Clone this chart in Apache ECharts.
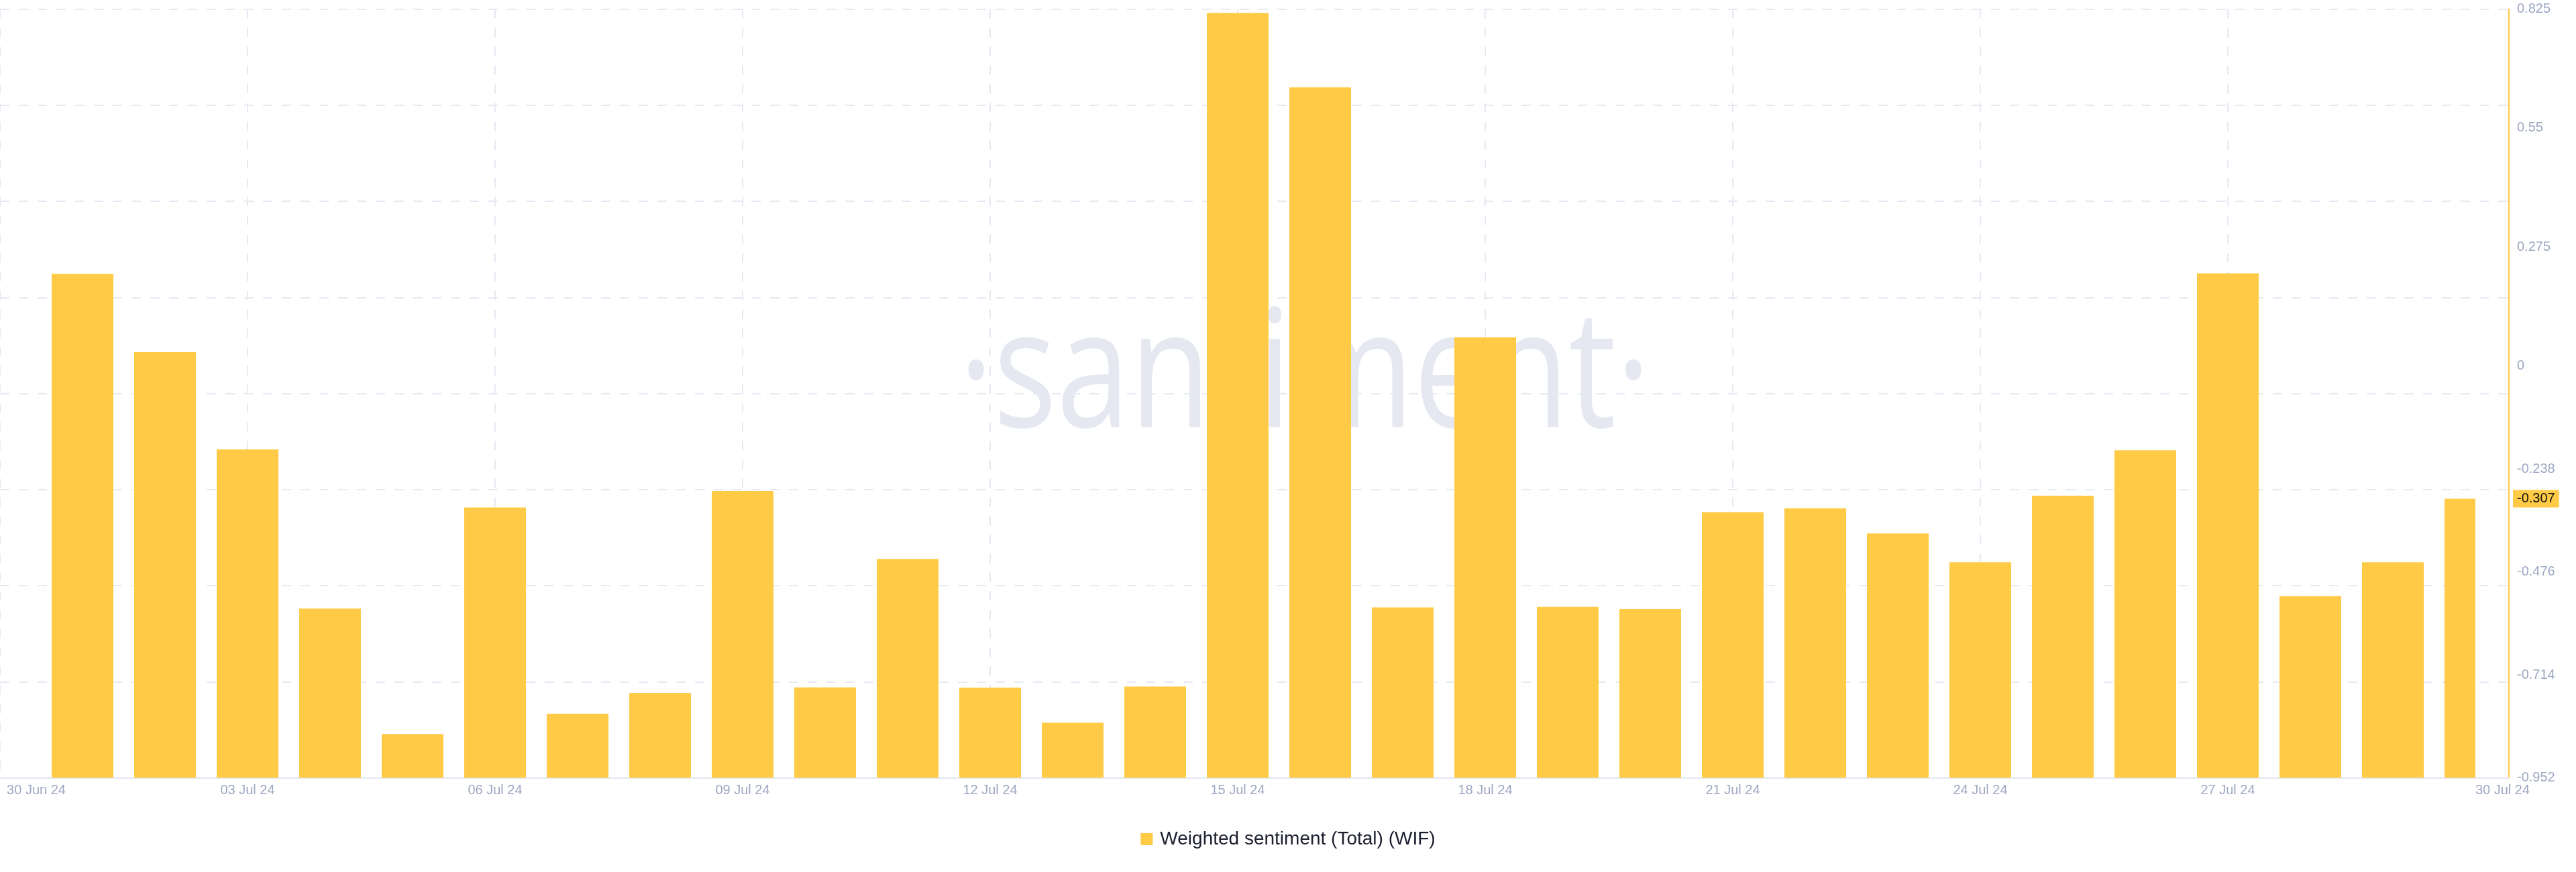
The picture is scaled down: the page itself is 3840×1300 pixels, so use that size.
<!DOCTYPE html>
<html>
<head>
<meta charset="utf-8">
<script src="https://cdn.jsdelivr.net/npm/echarts@6/dist/echarts.min.js"></script>
<style>
  html, body { margin: 0; padding: 0; background: #ffffff; }
  #chart { width: 3840px; height: 1300px; }
</style>
</head>
<body>
<div id="chart"></div>
<script>
// ---- data ----
const seriesName = 'Weighted sentiment (Total) (WIF)';
const categories = [
  '2024-07-01','2024-07-02','2024-07-03','2024-07-04','2024-07-05','2024-07-06',
  '2024-07-07','2024-07-08','2024-07-09','2024-07-10','2024-07-11','2024-07-12',
  '2024-07-13','2024-07-14','2024-07-15','2024-07-16','2024-07-17','2024-07-18',
  '2024-07-19','2024-07-20','2024-07-21','2024-07-22','2024-07-23','2024-07-24',
  '2024-07-25','2024-07-26','2024-07-27','2024-07-28','2024-07-29','2024-07-30'
];
const values = [
  0.213, 0.032, -0.193, -0.561, -0.851, -0.327,
  -0.804, -0.756, -0.289, -0.743, -0.446, -0.744,
  -0.825, -0.741, 0.816, 0.644, -0.558, 0.066,
  -0.557, -0.562, -0.338, -0.329, -0.387, -0.454,
  -0.300, -0.195, 0.214, -0.532, -0.454, -0.307
];
const xTickDates = ['2024-06-30','2024-07-03','2024-07-06','2024-07-09','2024-07-12','2024-07-15',
  '2024-07-18','2024-07-21','2024-07-24','2024-07-27','2024-07-30'];
const xTickLabels = ['30 Jun 24','03 Jul 24','06 Jul 24','09 Jul 24','12 Jul 24','15 Jul 24',
  '18 Jul 24','21 Jul 24','24 Jul 24','27 Jul 24','30 Jul 24'];
const yTickValues = [0.825, 0.55, 0.275, 0, -0.238, -0.476, -0.714, -0.952];
const yTickLabels = ['0.825','0.55','0.275','0','-0.238','-0.476','-0.714','-0.952'];
const yMin = -0.952, yMax = 0.825;

// ---- helpers ----
function ms(d) { const p = d.split('-').map(Number); return Date.UTC(p[0], p[1] - 1, p[2]); }
const barData = categories.map((c, i) => [ms(c), values[i]]);
const xMinMs = ms('2024-06-30');
const xMaxBars = ms('2024-07-30');
const xMaxAxis = Date.UTC(2024, 6, 30, 9, 45);
const xLabelMap = {};
xTickDates.forEach((d, i) => { xLabelMap[ms(d)] = xTickLabels[i]; });
const xGridValues = xTickDates.slice(0, xTickDates.length - 1).map(ms);
const yGridValues = [];
for (let k = 0; k <= 8; k++) yGridValues.push(yMin + (yMax - yMin) * k / 8);
const lastValue = values[values.length - 1];
const yLabelValues = yTickValues.concat([lastValue]);

const FONT = '"Liberation Sans", Arial, Helvetica, sans-serif';
const LABEL_COLOR = '#9ea8c3';
const GRID_COLOR = '#e6e9f2';
const YELLOW = '#FFCB47';
const BAR_WIDTH = 92;

// bars rise from the bottom of the axis (its minimum), as in the original
function renderBar(params, api) {
  const x = api.value(0), v = api.value(1);
  const top = api.coord([x, v]);
  const base = api.coord([x, yMin]);
  const rect = { x: top[0] - BAR_WIDTH / 2, y: top[1], width: BAR_WIDTH, height: base[1] - top[1] };
  const cs = params.coordSys;
  const clipped = echarts.graphic.clipRectByRect(rect, { x: cs.x, y: cs.y, width: cs.width, height: cs.height });
  if (!clipped) return null;
  return { type: 'rect', shape: clipped, style: { fill: YELLOW } };
}

const chart = echarts.init(document.getElementById('chart'), null, { renderer: 'canvas' });
chart.setOption({
  animation: false,
  backgroundColor: '#ffffff',
  graphic: [{
    type: 'text',
    x: 1945, y: 567,
    scaleY: 1.25,
    z: -10,
    silent: true,
    style: {
      text: '\u00b7santiment\u00b7',
      fontFamily: '"Open Sans", sans-serif',
      fontSize: 197,
      fill: '#e5e8f1',
      align: 'center',
      verticalAlign: 'middle'
    }
  }],
  legend: {
    data: [seriesName],
    left: 'center',
    top: 1237,
    padding: 0,
    icon: 'rect',
    itemWidth: 18,
    itemHeight: 18,
    textStyle: { fontFamily: FONT, fontSize: 28, color: '#1c1f2e', padding: [0, 0, 0, 6] }
  },
  grid: [
    { left: 0, right: 150, top: 13.5, bottom: 140.5 },
    { left: 0, right: 100, top: 13.5, bottom: 140.5 }
  ],
  xAxis: [
    { type: 'value', gridIndex: 0, min: xMinMs, max: xMaxBars, show: false },
    {
      type: 'value', gridIndex: 1, min: xMinMs, max: xMaxAxis,
      axisLine: { show: true, onZero: false, lineStyle: { color: '#e3e6ef', width: 2 } },
      axisTick: { show: false, customValues: xGridValues },
      splitLine: { show: true, lineStyle: { color: GRID_COLOR, width: 2, type: [14, 14] } },
      axisLabel: {
        customValues: xTickDates.map(ms),
        margin: 9,
        fontFamily: FONT, fontSize: 20, color: LABEL_COLOR,
        formatter: function (v) {
          const t = xLabelMap[v] || '';
          if (v === xMinMs) return '{first|' + t + '}';
          if (v === xMaxBars) return '{last|' + t + '}';
          return '{n|' + t + '}';
        },
        rich: {
          n: { fontFamily: FONT, fontSize: 20, color: LABEL_COLOR },
          first: { fontFamily: FONT, fontSize: 20, color: LABEL_COLOR, padding: [0, 0, 0, 108] },
          last: { fontFamily: FONT, fontSize: 20, color: LABEL_COLOR, padding: [0, 0, 0, 81] }
        }
      }
    }
  ],
  yAxis: [
    { type: 'value', gridIndex: 0, min: yMin, max: yMax, show: false },
    {
      type: 'value', gridIndex: 1, position: 'right', min: yMin, max: yMax,
      axisLine: { show: true, onZero: false, lineStyle: { color: YELLOW, width: 2 } },
      axisTick: { show: false, customValues: yGridValues },
      splitLine: { show: true, lineStyle: { color: GRID_COLOR, width: 2, type: [14, 14] } },
      axisLabel: {
        customValues: yLabelValues,
        margin: 6,
        fontFamily: FONT, fontSize: 20, color: LABEL_COLOR,
        formatter: function (v) {
          if (Math.abs(v - lastValue) < 1e-9) return '{hl|' + String(lastValue) + '}';
          const i = yTickValues.findIndex(t => Math.abs(t - v) < 1e-9);
          return '{n|' + (i >= 0 ? yTickLabels[i] : '') + '}';
        },
        rich: {
          n: { fontFamily: FONT, fontSize: 20, color: LABEL_COLOR, padding: [3, 6, 3, 6] },
          hl: { fontFamily: FONT, fontSize: 20, color: '#111111', backgroundColor: YELLOW, padding: [3, 6, 3, 6] }
        }
      }
    }
  ],
  series: [{
    name: seriesName,
    type: 'custom',
    xAxisIndex: 0,
    yAxisIndex: 0,
    renderItem: renderBar,
    itemStyle: { color: YELLOW },
    encode: { x: 0, y: 1 },
    data: barData
  }]
});
</script>
</body>
</html>
